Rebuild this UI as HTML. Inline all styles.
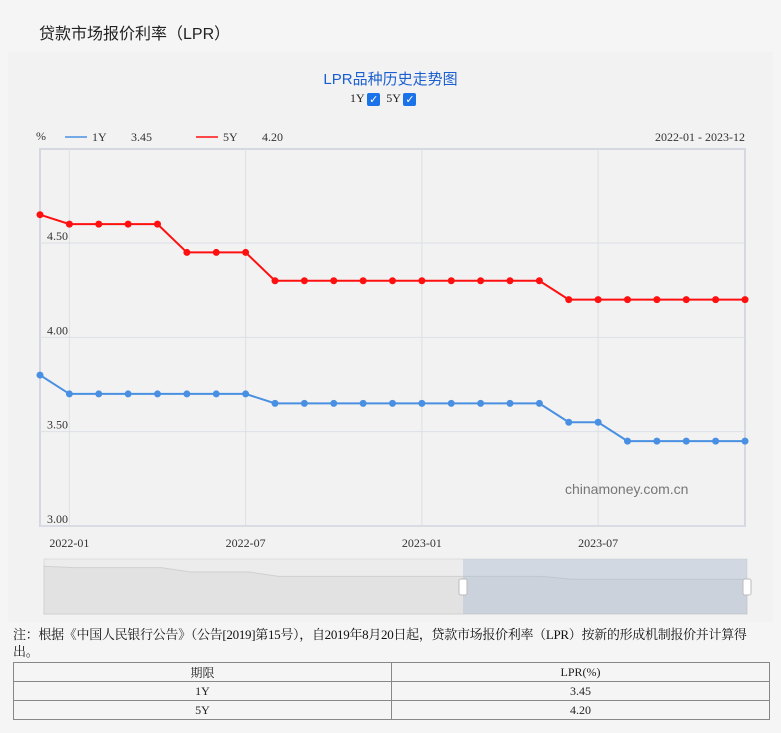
<!DOCTYPE html>
<html><head><meta charset="utf-8"><style>
body{margin:0;width:781px;height:733px;background:#f5f5f5;font-family:"Liberation Serif","Noto Serif CJK SC",serif;position:relative;overflow:hidden}
.abs{position:absolute}
table{border-collapse:collapse}
td{border:1px solid #888;text-align:center;font-size:12px;height:18px;padding:0;color:#222}
.cb{display:inline-block;width:13px;height:13px;background:#1a73e8;border-radius:2px;color:#fff;font-size:11px;line-height:13px;text-align:center;vertical-align:-1px;font-family:"DejaVu Sans",sans-serif}
</style></head><body>
<div class="abs" style="left:39px;top:20px;font-size:16px;font-family:'Liberation Sans','Noto Sans CJK SC',sans-serif;color:#222">贷款市场报价利率（LPR）</div>
<div class="abs" style="left:8px;top:52px;width:765px;height:570px;background:#f2f2f2"></div>
<div class="abs" style="left:0;width:781px;top:68px;text-align:center;font-size:15px;color:#1a5fd0;font-family:'Liberation Sans','Noto Sans CJK SC',sans-serif">LPR品种历史走势图</div>
<div class="abs" style="left:350px;top:91px;font-size:12px;color:#222">1Y <span class="cb">✓</span>&nbsp; 5Y <span class="cb">✓</span></div>
<svg class="abs" style="left:0;top:0" width="781" height="733" id="chart"></svg>
<div class="abs" style="left:13px;top:626px;width:745px;font-size:13px;line-height:17px;color:#111;letter-spacing:-0.3px">注：根据《中国人民银行公告》（公告[2019]第15号），自2019年8月20日起，贷款市场报价利率（LPR）按新的形成机制报价并计算得出。</div>
<table class="abs" style="left:13px;top:662px;width:757px">
<tr><td style="width:50%">期限</td><td>LPR(%)</td></tr>
<tr><td>1Y</td><td>3.45</td></tr>
<tr><td>5Y</td><td>4.20</td></tr>
</table>
<script>
const months=["2021-12","2022-01","2022-02","2022-03","2022-04","2022-05","2022-06","2022-07","2022-08","2022-09","2022-10","2022-11","2022-12","2023-01","2023-02","2023-03","2023-04","2023-05","2023-06","2023-07","2023-08","2023-09","2023-10","2023-11","2023-12"];
const y1=[3.80,3.70,3.70,3.70,3.70,3.70,3.70,3.70,3.65,3.65,3.65,3.65,3.65,3.65,3.65,3.65,3.65,3.65,3.55,3.55,3.45,3.45,3.45,3.45,3.45];
const y5=[4.65,4.60,4.60,4.60,4.60,4.45,4.45,4.45,4.30,4.30,4.30,4.30,4.30,4.30,4.30,4.30,4.30,4.30,4.20,4.20,4.20,4.20,4.20,4.20,4.20];
const yTicks=[3.00,3.50,4.00,4.50];
const xTicks=["2022-01","2022-07","2023-01","2023-07"];
const svg=document.getElementById('chart');const NS="http://www.w3.org/2000/svg";
const L=40,R=745,T=149,B=526;
const x=i=>L+i*(R-L)/(months.length-1);
const y=v=>B-(v-3)*(B-243)/1.5;
function mk(t,a,p){const e=document.createElementNS(NS,t);for(const k in a)e.setAttribute(k,a[k]);(p||svg).appendChild(e);return e;}
let e=mk('rect',{x:L,y:T,width:R-L,height:B-T,fill:'none',stroke:'#d5d8e0','stroke-width':2});

yTicks.forEach(v=>{let g=mk('line',{x1:L,x2:R,y1:y(v),y2:y(v),stroke:'#dcdfe6'});

let t=mk('text',{x:47,y:y(v)-3,'font-size':12,fill:'#333'});t.textContent=v.toFixed(2);
});
xTicks.forEach(m=>{const i=months.indexOf(m);let g=mk('line',{x1:x(i),x2:x(i),y1:T,y2:B,stroke:'#dcdfe6'});

let t=mk('text',{x:x(i),y:547,'font-size':12,fill:'#333','text-anchor':'middle'});t.textContent=m;
});
let t=mk('text',{x:36,y:140,'font-size':12,fill:'#333'});t.textContent='%';
[[y1,'#4a90e2','1Y',65,'3.45'],[y5,'#ff1010','5Y',196,'4.20']].forEach(([d,c,n,lx,lv])=>{
 let l=mk('line',{x1:lx,x2:lx+22,y1:137,y2:137,stroke:c,'stroke-width':1.5});
 let lt=mk('text',{x:lx+27,y:141,'font-size':12,fill:'#333'});lt.textContent=n;
 let lv2=mk('text',{x:lx+66,y:141,'font-size':12,fill:'#333'});lv2.textContent=lv;
 let p=mk('polyline',{points:d.map((v,i)=>x(i)+','+y(v)).join(' '),fill:'none',stroke:c,'stroke-width':2});
 
 d.forEach((v,i)=>{let c2=mk('circle',{cx:x(i),cy:y(v),r:3.5,fill:c});});
});
t=mk('text',{x:745,y:141,'font-size':12,fill:'#333','text-anchor':'end'});t.textContent='2022-01 - 2023-12';
t=mk('text',{x:565,y:494,'font-size':14,fill:'#777','font-family':'Liberation Sans,sans-serif'});t.textContent='chinamoney.com.cn';
const SL=44,SR=747,ST=559,SB=614;
e=mk('rect',{x:SL,y:ST,width:SR-SL,height:SB-ST,fill:'#ececec',stroke:'#ddd'});
const sx=i=>SL+i*(SR-SL)/(months.length-1);const sy=v=>SB-(v-3)*(SB-ST)/1.9;
let pts=SL+','+SB+' '+y5.map((v,i)=>sx(i)+','+sy(v)).join(' ')+' '+SR+','+SB;
e=mk('polygon',{points:pts,fill:'#e2e2e2',stroke:'#d0d0d0'});
e=mk('rect',{x:463,y:ST,width:SR-463,height:SB-ST,fill:'rgba(160,180,210,0.35)'});
[463,747].forEach(h=>{let r=mk('rect',{x:h-4,y:579,width:8,height:16,fill:'#fff',stroke:'#bbb',rx:2});});
</script>
</body></html>
